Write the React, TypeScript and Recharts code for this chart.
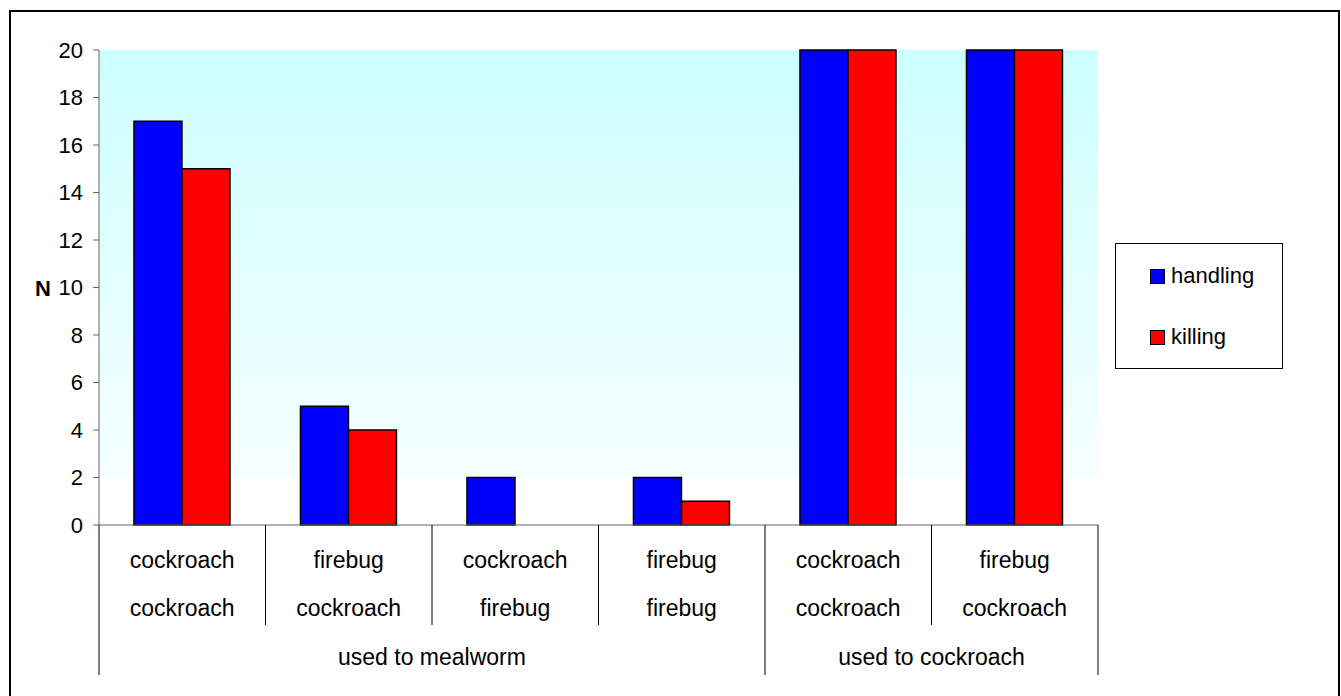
import { BarChart, Bar, XAxis, YAxis, CartesianGrid } from 'recharts';

const preyTop = ['cockroach', 'firebug', 'cockroach', 'firebug', 'cockroach', 'firebug'];
const preyBottom = ['cockroach', 'cockroach', 'firebug', 'firebug', 'cockroach', 'cockroach'];
const handling = [17, 5, 2, 2, 20, 20];
const killing = [15, 4, 0, 1, 20, 20];
const groups = [
    { label: 'used to mealworm', start: 0, count: 4 },
    { label: 'used to cockroach', start: 4, count: 2 },
];
const yTicks = [0, 2, 4, 6, 8, 10, 12, 14, 16, 18, 20];

const series = [
    { key: 'handling', color: '#0000ff' },
    { key: 'killing', color: '#ff0000' },
];

const data = preyTop.map((top, i) => ({
    name: `${top} ${preyBottom[i]}`,
    top,
    bottom: preyBottom[i],
    handling: handling[i],
    killing: killing[i],
}));

const FONT = '"Liberation Sans", Arial, sans-serif';

const CategoryTick = (props: any) => {
    const { x, y, payload } = props;
    const i: number = payload.index ?? props.index;
    const half: number = payload.offset || 999 / preyTop.length / 2;
    const isGroupStart = groups.some((g) => g.start === i);
    const isLast = i === preyTop.length - 1;
    const group = groups.find((g) => g.start + Math.floor((g.count - 1) / 2) === i);
    let groupX = 0;
    if (group) {
        // centre of the group's span
        const span = group.count * half * 2;
        groupX = x - half - (i - group.start) * half * 2 + span / 2;
    }
    return (
        <g>
            <line x1={x - half} y1={y} x2={x - half} y2={y + (isGroupStart ? 150 : 100)} stroke="#000" strokeWidth={1} />
            {isLast && <line x1={x + half} y1={y} x2={x + half} y2={y + 150} stroke="#000" strokeWidth={1} />}
            <text x={x} y={y + 43} textAnchor="middle" fontSize={23} fontFamily={FONT} fill="#000">
                {preyTop[i]}
            </text>
            <text x={x} y={y + 91} textAnchor="middle" fontSize={23} fontFamily={FONT} fill="#000">
                {preyBottom[i]}
            </text>
            {group && (
                <text x={groupX} y={y + 140} textAnchor="middle" fontSize={23} fontFamily={FONT} fill="#000">
                    {group.label}
                </text>
            )}
        </g>
    );
};

export default function App() {
    return (
        <div
            style={{
                position: 'fixed',
                left: 9,
                top: 10,
                width: 1331,
                height: 692,
                border: '2px solid #000',
                boxSizing: 'border-box',
                background: '#fff',
                fontFamily: FONT,
            }}
        >
            <BarChart
                width={1327}
                height={688}
                data={data}
                margin={{ top: 38, right: 240, bottom: 0, left: 28 }}
                barCategoryGap="21%"
                barGap={0}
            >
                <defs>
                    <linearGradient id="plotBg" x1="0" y1="0" x2="0" y2="1">
                        <stop offset="0%" stopColor="#ccffff" />
                        <stop offset="90%" stopColor="#f6ffff" />
                        <stop offset="90%" stopColor="#ffffff" />
                        <stop offset="100%" stopColor="#ffffff" />
                    </linearGradient>
                </defs>
                <CartesianGrid horizontal={false} vertical={false} fill="url(#plotBg)" stroke="none" />
                <XAxis
                    dataKey="name"
                    height={175}
                    interval={0}
                    tickSize={0}
                    tickMargin={0}
                    tickLine={false}
                    axisLine={{ stroke: '#666', strokeWidth: 1 }}
                    tick={<CategoryTick />}
                />
                <YAxis
                    width={60}
                    domain={[0, 20]}
                    ticks={yTicks}
                    interval={0}
                    tickSize={6}
                    tickMargin={10}
                    axisLine={{ stroke: '#666', strokeWidth: 1 }}
                    tickLine={{ stroke: '#666', strokeWidth: 1 }}
                    tick={{ fontSize: 22, fontFamily: FONT, fill: '#000' }}
                />
                {series.map((s) => (
                    <Bar
                        key={s.key}
                        dataKey={s.key}
                        fill={s.color}
                        stroke="#000"
                        strokeWidth={1.5}
                        isAnimationActive={false}
                    />
                ))}
                <text x={32} y={284} textAnchor="middle" fontSize={22} fontWeight="bold" fontFamily={FONT} fill="#000">
                    N
                </text>
            </BarChart>
            <div
                style={{
                    position: 'absolute',
                    left: 1104,
                    top: 231,
                    width: 168,
                    height: 126,
                    border: '1px solid #000',
                    boxSizing: 'border-box',
                    background: '#fff',
                }}
            >
                {series.map((s, i) => (
                    <div
                        key={s.key}
                        style={{
                            position: 'absolute',
                            left: 34,
                            top: 32 + i * 61 - 13,
                            height: 26,
                            display: 'flex',
                            alignItems: 'center',
                            fontSize: 22,
                            color: '#000',
                        }}
                    >
                        <span
                            style={{
                                display: 'inline-block',
                                width: 13,
                                height: 13,
                                background: s.color,
                                border: '1px solid #000',
                                marginRight: 6,
                            }}
                        />
                        {s.key}
                    </div>
                ))}
            </div>
        </div>
    );
}
